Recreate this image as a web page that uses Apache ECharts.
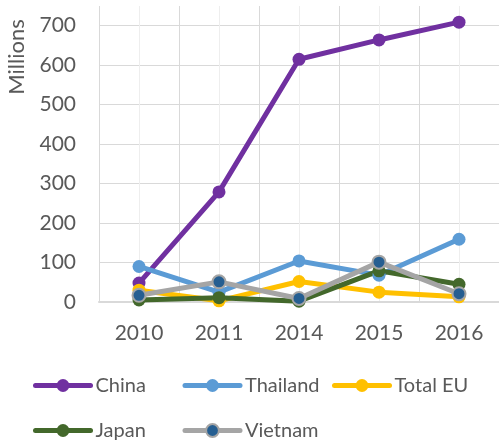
<!DOCTYPE html>
<html>
<head>
<meta charset="utf-8">
<script src="https://cdn.jsdelivr.net/npm/echarts@6/dist/echarts.min.js"></script>
<style>
  html, body { margin: 0; padding: 0; background: #fff; }
  #main { width: 499px; height: 444px; }
</style>
</head>
<body>
<div id="main"></div>
<script>
var years = ['2010', '2011', '2014', '2015', '2016'];
var china = [48, 279, 615, 664, 709];
var thailand = [90, 25, 104, 68, 159];
var totalEU = [30, 3, 52, 25, 13];
var japan = [5, 11, 2, 79, 45];
var vietnam = [17, 51, 9, 101, 21];

var font = 'Lato';
var textColor = '#595959';

var chartDom = document.getElementById('main');
var myChart = echarts.init(chartDom);
var option;

function line(name, data, color, marker) {
  return {
    name: name,
    type: 'line',
    data: data,
    xAxisIndex: 0,
    symbol: 'circle',
    symbolSize: 13,
    lineStyle: { color: color, width: 5 },
    itemStyle: marker
      ? { color: marker, borderColor: color, borderWidth: 2 }
      : { color: color },
    emphasis: { disabled: true }
  };
}

option = {
  animation: false,
  textStyle: { fontFamily: font },
  grid: { left: 99, right: 0, top: 6, bottom: 142 },
  graphic: [
    {
      type: 'text',
      x: 17,
      y: 57,
      rotation: Math.PI / 2,
      style: {
        text: 'Millions',
        fill: textColor,
        font: '22px ' + font,
        textAlign: 'center',
        textVerticalAlign: 'middle'
      }
    }
  ],
  legend: {
    left: 28,
    top: 358,
    itemWidth: 55,
    itemHeight: 16,
    itemGap: 0,
    lineStyle: { width: 5, cap: 'round' },
    textStyle: {
      color: textColor,
      fontSize: 20,
      width: 87,
      lineHeight: 45
    },
    data: ['China', 'Thailand', 'Total EU', 'Japan', 'Vietnam']
  },
  xAxis: [
    {
      type: 'category',
      data: years,
      boundaryGap: true,
      axisLine: { lineStyle: { color: '#d9d9d9', width: 2 } },
      axisTick: { show: false },
      axisLabel: { color: textColor, fontSize: 21, margin: 21 },
      splitLine: { show: false }
    },
    {
      // gridlines only: major at category borders, minor at centres
      type: 'value',
      min: 0,
      max: 10,
      interval: 1,
      axisLine: { show: false },
      axisTick: { show: false },
      axisLabel: { show: false },
      splitLine: { show: true, lineStyle: { color: ['#d9d9d9', '#eeeeee'], width: 1 } }
    }
  ],
  yAxis: {
    type: 'value',
    min: 0,
    max: 750,
    interval: 100,
    axisLine: { show: false },
    axisTick: { show: false },
    axisLabel: { color: textColor, fontSize: 21, margin: 23, showMaxLabel: false },
    splitLine: {
      lineStyle: {
        color: ['#d9d9d9', '#d9d9d9', '#d9d9d9', '#d9d9d9', '#d9d9d9',
                '#d9d9d9', '#d9d9d9', '#d9d9d9', 'rgba(0,0,0,0)'],
        width: 1
      }
    }
  },
  series: [
    line('China', china, '#7030A0'),
    line('Thailand', thailand, '#5B9BD5'),
    line('Total EU', totalEU, '#FFC000'),
    line('Japan', japan, '#43682B'),
    line('Vietnam', vietnam, '#A5A5A5', '#255E91')
  ]
};

option && myChart.setOption(option);
</script>
</body>
</html>
